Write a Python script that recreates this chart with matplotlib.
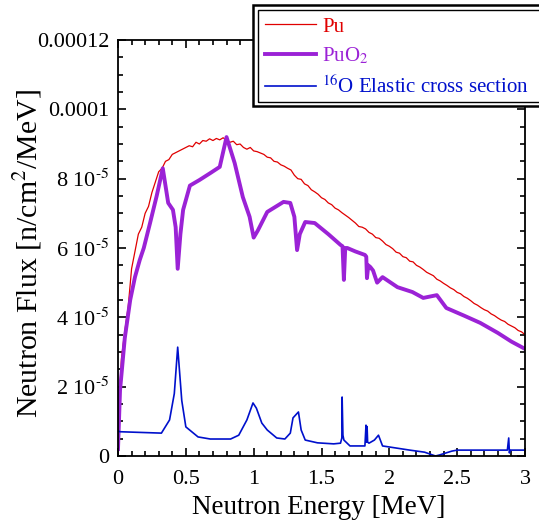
import matplotlib
matplotlib.use("Agg")
import matplotlib.pyplot as plt
from matplotlib.patches import Rectangle
from matplotlib.ticker import MultipleLocator, FixedLocator, FixedFormatter

plt.rcParams['font.family'] = ['Liberation Serif', 'DejaVu Serif']
plt.rcParams['mathtext.fontset'] = 'stix'

# energies in MeV, flux in units of 1e-5 n/cm^2/MeV
pu_e = [i * 0.025 for i in range(121)]
pu_flux = [0.8, 2.8, 3.6, 4.3, 5.4, 5.9, 6.4, 6.6, 7.0, 7.2,
           7.6, 7.9, 8.2, 8.3, 8.5, 8.55, 8.7, 8.75, 8.8, 8.85,
           8.9, 8.95, 8.92, 9.05, 9.0, 9.1, 9.08, 9.15, 9.1, 9.16,
           9.12, 9.18, 9.1, 9.05, 9.08, 8.98, 9.0, 8.9, 8.85, 8.9,
           8.8, 8.78, 8.74, 8.7, 8.62, 8.6, 8.5, 8.48, 8.4, 8.36,
           8.3, 8.25, 8.1, 8.0, 7.98, 7.85, 7.8, 7.68, 7.62, 7.55,
           7.45, 7.4, 7.3, 7.25, 7.15, 7.1, 7.02, 6.95, 6.88, 6.8,
           6.72, 6.62, 6.6, 6.55, 6.45, 6.4, 6.3, 6.28, 6.2, 6.1,
           6.05, 5.98, 5.88, 5.85, 5.75, 5.72, 5.62, 5.6, 5.5, 5.45,
           5.38, 5.3, 5.25, 5.2, 5.1, 5.05, 4.98, 4.92, 4.85, 4.8,
           4.72, 4.68, 4.6, 4.55, 4.48, 4.4, 4.35, 4.28, 4.22, 4.18,
           4.1, 4.05, 3.98, 3.92, 3.88, 3.8, 3.75, 3.7, 3.62, 3.58,
           3.5]

puo2_e = [0.0, 0.015, 0.05, 0.09, 0.125, 0.16, 0.19, 0.235, 0.285, 0.33,
          0.37, 0.405, 0.425, 0.44, 0.46, 0.48, 0.53, 0.60, 0.68, 0.75,
          0.80, 0.86, 0.92, 0.97, 1.0, 1.03, 1.10, 1.22, 1.27, 1.30,
          1.32, 1.34, 1.38, 1.45, 1.55, 1.64, 1.655, 1.665, 1.675, 1.69,
          1.75, 1.82, 1.83, 1.835, 1.845, 1.86, 1.88, 1.91, 1.95, 2.06,
          2.17, 2.25, 2.35, 2.42, 2.55, 2.67, 2.8, 2.9, 3.0]
puo2_flux = [0.2, 1.9, 3.4, 4.5, 5.16, 5.65, 6.0, 6.7, 7.5, 8.3,
             7.3, 7.1, 6.6, 5.4, 6.4, 7.1, 7.8, 7.96, 8.16, 8.34,
             9.2, 8.45, 7.47, 6.9, 6.3, 6.5, 7.04, 7.33, 7.3, 6.9,
             5.94, 6.4, 6.75, 6.72, 6.4, 6.09, 6.05, 5.08, 6.0, 6.0,
             5.9, 5.8, 5.75, 5.13, 5.5, 5.45, 5.35, 5.0, 5.16, 4.87,
             4.73, 4.56, 4.64, 4.27, 4.05, 3.84, 3.55, 3.3, 3.09]

o16_e = [0.0, 0.015, 0.32, 0.38, 0.415, 0.44, 0.47, 0.50, 0.59, 0.68,
         0.83, 0.89, 0.95, 0.995, 1.02, 1.06, 1.10, 1.17, 1.23, 1.27,
         1.29, 1.33, 1.35, 1.38, 1.47, 1.59, 1.64, 1.65, 1.652, 1.658,
         1.665, 1.71, 1.82, 1.828, 1.832, 1.836, 1.84, 1.85, 1.89, 1.92,
         1.95, 2.15, 2.26, 2.34, 2.37, 2.46, 2.50, 2.87, 2.88, 2.885,
         2.89, 3.0]
o16_xs = [0.72, 0.70, 0.66, 1.04, 1.8, 3.14, 1.6, 0.84, 0.55, 0.49,
          0.49, 0.6, 1.04, 1.53, 1.38, 0.95, 0.75, 0.52, 0.49, 0.66,
          1.1, 1.27, 0.75, 0.46, 0.38, 0.35, 0.37, 0.52, 1.7, 0.6,
          0.46, 0.29, 0.29, 0.89, 0.4, 0.85, 0.4, 0.37, 0.46, 0.6,
          0.29, 0.17, 0.11, 0.0, 0.03, 0.14, 0.17, 0.17, 0.52, 0.09,
          0.17, 0.17]

ytick_vals = [0, 2e-5, 4e-5, 6e-5, 8e-5, 1e-4, 1.2e-4]
ytick_labels = ['0', r'2 10$^{\text{-5}}$', r'4 10$^{\text{-5}}$',
                r'6 10$^{\text{-5}}$', r'8 10$^{\text{-5}}$',
                '0.0001', '0.00012']
xtick_vals = [0, 0.5, 1, 1.5, 2, 2.5, 3]
xtick_labels = ['0', '0.5', '1', '1.5', '2', '2.5', '3']

W, H = 539, 524
fig = plt.figure(figsize=(W / 100, H / 100), dpi=100)
ax = fig.add_axes([118 / W, 1 - 456 / H, 407 / W, 416 / H])

sc = 1e-5
l1, = ax.plot(pu_e, [v * sc for v in pu_flux], color='#e00000', lw=0.9, label='Pu')
l2, = ax.plot(puo2_e, [v * sc for v in puo2_flux], color='#9b22d6', lw=2.8,
              label='PuO$_2$')
l3, = ax.plot(o16_e, [v * sc for v in o16_xs], color='#0010cc', lw=1.2,
              label='$^{16}$O Elastic cross section')

ax.set_xlim(0, 3)
ax.set_ylim(0, 1.2e-4)
ax.xaxis.set_major_locator(FixedLocator(xtick_vals))
ax.xaxis.set_major_formatter(FixedFormatter(xtick_labels))
ax.xaxis.set_minor_locator(MultipleLocator(0.1))
ax.yaxis.set_major_locator(FixedLocator(ytick_vals))
ax.yaxis.set_major_formatter(FixedFormatter(ytick_labels))
ax.yaxis.set_minor_locator(MultipleLocator(0.5e-5))
ax.tick_params(which='both', direction='in', top=True, right=True,
               labelsize=16, width=1.2)
ax.tick_params(which='major', length=6, pad=6)
ax.tick_params(which='minor', length=3.5)
ax.tick_params(axis='x', which='major', pad=10)
for s in ax.spines.values():
    s.set_linewidth(1.3)

ax.set_xlabel('Neutron Energy [MeV]', fontsize=19.5)
ax.set_ylabel('Neutron Flux [n/cm$^2$/MeV]', fontsize=21.5)
ax.xaxis.set_label_coords(0.493, -0.094)
ax.yaxis.set_label_coords(-0.182, 0.487)

# double-framed legend box, running off the right edge
fig.add_artist(Rectangle((253 / W, 1 - 106 / H), 300 / W, 101 / H,
                         transform=fig.transFigure, facecolor='white',
                         edgecolor='black', lw=1.8, zorder=5))
fig.add_artist(Rectangle((257.5 / W, 1 - 101.5 / H), 300 / W, 92 / H,
                         transform=fig.transFigure, fill=False,
                         edgecolor='black', lw=1.0, zorder=6))

leg = fig.legend(handles=[l1, l2, l3], loc='upper left',
                 bbox_to_anchor=(265 / W, 1 - 17 / H),
                 bbox_transform=fig.transFigure, fontsize=15,
                 frameon=False, handlelength=2.45, labelspacing=0.45,
                 borderpad=0.0, borderaxespad=0.0, handletextpad=0.3)
leg.set_zorder(7)
for txt, ln in zip(leg.get_texts(), [l1, l2, l3]):
    txt.set_color(ln.get_color())

fig.savefig('out.png', dpi=100)
